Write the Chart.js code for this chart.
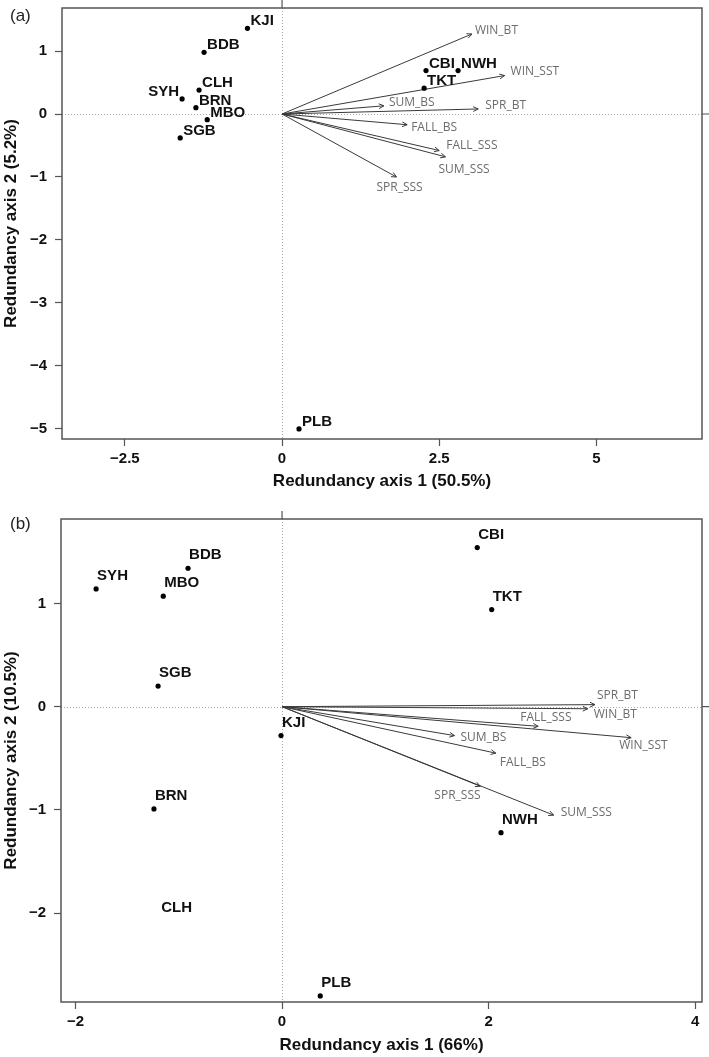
<!DOCTYPE html>
<html><head><meta charset="utf-8">
<script src="https://cdn.jsdelivr.net/npm/chart.js@4.4.1/dist/chart.umd.min.js"></script>
<style>
html,body{margin:0;padding:0;background:#fff;}
#wrap{position:relative;width:709px;height:1057px;overflow:hidden;}
.box{position:absolute;left:0;width:709px;}
#boxA{top:0;height:500px;}
#boxB{top:500px;height:557px;}
</style></head><body>
<div id="wrap">
<div class="box" id="boxA"><canvas id="chartA"></canvas></div>
<div class="box" id="boxB"><canvas id="chartB"></canvas></div>
</div>
<script>
// ---------- Panel (a) data ----------
const sitesA = ['KJI','BDB','CLH','SYH','BRN','MBO','SGB','PLB','CBI','NWH','TKT'];
const siteXA = [-0.55,-1.24,-1.32,-1.59,-1.37,-1.19,-1.62,0.27,2.29,2.80,2.26];
const siteYA = [1.36,0.98,0.38,0.24,0.10,-0.09,-0.38,-5.00,0.69,0.69,0.41];
const varsA  = ['WIN_BT','WIN_SST','SUM_BS','SPR_BT','FALL_BS','FALL_SSS','SUM_SSS','SPR_SSS'];
const varXA  = [3.02,3.54,1.62,3.12,1.99,2.50,2.60,1.82];
const varYA  = [1.27,0.61,0.13,0.08,-0.17,-0.58,-0.68,-1.00];
const xTicksA = [-2.5,0,2.5,5];
const yTicksA = [1,0,-1,-2,-3,-4,-5];

// ---------- Panel (b) data ----------
const sitesB = ['SYH','BDB','MBO','SGB','KJI','BRN','CLH','PLB','NWH','CBI','TKT'];
const siteXB = [-1.80,-0.91,-1.15,-1.20,-0.01,-1.24,-1.18,0.37,2.12,1.89,2.03];
const siteYB = [1.14,1.34,1.07,0.20,-0.28,-0.99,-2.07,-2.80,-1.22,1.54,0.94];
const varsB  = ['SPR_BT','WIN_BT','FALL_SSS','WIN_SST','SUM_BS','FALL_BS','SPR_SSS','SUM_SSS'];
const varXB  = [3.03,2.96,2.48,3.38,1.67,2.07,1.92,2.63];
const varYB  = [0.02,-0.02,-0.19,-0.30,-0.28,-0.45,-0.77,-1.05];
const xTicksB = [-2,0,2,4];
const yTicksB = [1,0,-1,-2];

// ---------- styles (label placement in pixels) ----------
const siteLabelA = {dx:3, dy:-7, left:{SYH:[-3,-7]}};
const siteLabelB = {dx:1, dy:-13, left:{}};
const hiddenDotsB = ['CLH'];
const varLabelA = {WIN_BT:[3,-3],WIN_SST:[6,-4],SUM_BS:[5,-3],SPR_BT:[7,-3],FALL_BS:[4,3],FALL_SSS:[7,-5],SUM_SSS:[-7,13],SPR_SSS:[-20,11]};
const varLabelB = {SPR_BT:[2,-9],WIN_BT:[6,6],FALL_SSS:[-18,-9],WIN_SST:[-12,8],SUM_BS:[6,2],FALL_BS:[4,9],SPR_SSS:[-46,9],SUM_SSS:[7,-3]};

const AX_FONT = '"Liberation Sans", Arial, sans-serif';
const fmt = v => v < 0 ? '\u2212' + String(Math.abs(v)) : String(v);

function makeChart(id, cfg) {
  const datasets = [];
  datasets.push({
    label: 'sites',
    data: cfg.sites.map((s, i) => ({x: cfg.sx[i], y: cfg.sy[i]})),
    pointRadius: cfg.sites.map(s => cfg.hidden.includes(s) ? 0 : 2.6),
    pointBackgroundColor: '#000', pointBorderWidth: 0, showLine: false
  });
  cfg.vars.forEach((v, i) => {
    datasets.push({
      label: v, data: [{x: 0, y: 0}, {x: cfg.vx[i], y: cfg.vy[i]}],
      showLine: true, borderColor: '#3a3a3a', borderWidth: 1, pointRadius: 0, fill: false
    });
  });
  const biplot = {
    id: 'biplot',
    beforeDatasetsDraw(chart) {
      const {ctx, chartArea: a, scales: {x, y}} = chart;
      const x0 = x.getPixelForValue(0), y0 = y.getPixelForValue(0);
      ctx.save();
      ctx.strokeStyle = '#a8a8a8'; ctx.lineWidth = 1; ctx.setLineDash([1, 2]);
      ctx.beginPath();
      ctx.moveTo(a.left, Math.round(y0) + 0.5); ctx.lineTo(a.right, Math.round(y0) + 0.5);
      ctx.moveTo(Math.round(x0) + 0.5, a.top); ctx.lineTo(Math.round(x0) + 0.5, a.bottom);
      ctx.stroke();
      ctx.restore();
    },
    afterDatasetsDraw(chart) {
      const {ctx, chartArea: a, scales: {x, y}} = chart;
      const x0 = x.getPixelForValue(0), y0 = y.getPixelForValue(0);
      ctx.save();
      // frame
      ctx.strokeStyle = '#555'; ctx.lineWidth = 1.5;
      ctx.strokeRect(a.left, a.top, a.right - a.left, a.bottom - a.top);
      // top / right zero ticks
      ctx.beginPath();
      ctx.moveTo(x0, a.top); ctx.lineTo(x0, a.top - 8);
      ctx.moveTo(a.right, y0); ctx.lineTo(a.right + 7, y0);
      ctx.lineWidth = 1.2; ctx.stroke();
      // arrowheads
      ctx.strokeStyle = '#3a3a3a'; ctx.lineWidth = 1;
      cfg.vars.forEach((v, i) => {
        const px = x.getPixelForValue(cfg.vx[i]), py = y.getPixelForValue(cfg.vy[i]);
        const ang = Math.atan2(py - y0, px - x0), L = 5.5, h = 0.45;
        ctx.beginPath();
        ctx.moveTo(px - L * Math.cos(ang - h), py - L * Math.sin(ang - h));
        ctx.lineTo(px, py);
        ctx.lineTo(px - L * Math.cos(ang + h), py - L * Math.sin(ang + h));
        ctx.stroke();
      });
      // variable labels
      ctx.fillStyle = '#6c6c6c'; ctx.font = '12px "Open Sans", sans-serif';
      ctx.textBaseline = 'middle'; ctx.textAlign = 'left';
      cfg.vars.forEach((v, i) => {
        const px = x.getPixelForValue(cfg.vx[i]), py = y.getPixelForValue(cfg.vy[i]);
        const o = cfg.varOff[v] || [4, 0];
        ctx.fillText(v, px + o[0], py + o[1]);
      });
      // site labels
      ctx.fillStyle = '#111'; ctx.font = 'bold 15px ' + AX_FONT;
      cfg.sites.forEach((s, i) => {
        const px = x.getPixelForValue(cfg.sx[i]), py = y.getPixelForValue(cfg.sy[i]);
        if (cfg.siteOff.left[s]) {
          ctx.textAlign = 'right';
          ctx.fillText(s, px + cfg.siteOff.left[s][0], py + cfg.siteOff.left[s][1]);
        } else {
          ctx.textAlign = 'left';
          ctx.fillText(s, px + cfg.siteOff.dx, py + cfg.siteOff.dy);
        }
      });
      // panel tag
      ctx.textAlign = 'left'; ctx.fillStyle = '#222';
      ctx.font = '17px ' + AX_FONT;
      ctx.fillText(cfg.tag, 10, cfg.tagY);
      ctx.restore();
    }
  };
  return new Chart(document.getElementById(id), {
    type: 'scatter',
    data: {datasets},
    plugins: [biplot],
    options: {
      responsive: true, maintainAspectRatio: false, animation: false,
      layout: {padding: {top: cfg.padTop, right: 7, left: 0, bottom: 0}},
      plugins: {legend: {display: false}, tooltip: {enabled: false}},
      scales: {
        x: {
          type: 'linear', min: cfg.xmin, max: cfg.xmax,
          afterBuildTicks: s => { s.ticks = cfg.xticks.map(v => ({value: v})); },
          afterFit: s => { s.height = cfg.xAxisH; s.paddingLeft = 0; s.paddingRight = 0; },
          grid: {drawOnChartArea: false, drawTicks: true, tickLength: 7, tickColor: '#555', tickWidth: 1.2},
          border: {display: false},
          ticks: {font: {family: AX_FONT, size: 15, weight: 'bold'}, color: '#111', padding: 4, callback: fmt, maxRotation: 0, autoSkip: false},
          title: {display: true, text: cfg.xTitle, color: '#111', font: {family: AX_FONT, size: 17, weight: 'bold'}, padding: {top: 0, bottom: cfg.xTitlePad}}
        },
        y: {
          type: 'linear', min: cfg.ymin, max: cfg.ymax,
          afterBuildTicks: s => { s.ticks = cfg.yticks.map(v => ({value: v})); },
          afterFit: s => { s.width = cfg.yAxisW; s.paddingTop = 0; s.paddingBottom = 0; },
          grid: {drawOnChartArea: false, drawTicks: true, tickLength: 7, tickColor: '#555', tickWidth: 1.2},
          border: {display: false},
          ticks: {font: {family: AX_FONT, size: 15, weight: 'bold'}, color: '#111', padding: 8, callback: fmt, autoSkip: false},
          title: {display: true, text: cfg.yTitle, color: '#111', font: {family: AX_FONT, size: 17, weight: 'bold'}, padding: {top: 1, bottom: 0}}
        }
      }
    }
  });
}

makeChart('chartA', {
  sites: sitesA, sx: siteXA, sy: siteYA, hidden: [],
  vars: varsA, vx: varXA, vy: varYA,
  siteOff: siteLabelA, varOff: varLabelA,
  xticks: xTicksA, yticks: yTicksA,
  xmin: -3.50, xmax: 6.68, ymin: -5.16, ymax: 1.683,
  padTop: 8, xAxisH: 61, yAxisW: 62, xTitlePad: 8.8,
  xTitle: 'Redundancy axis 1 (50.5%)', yTitle: 'Redundancy axis 2 (5.2%)',
  tag: '(a)', tagY: 16
});
makeChart('chartB', {
  sites: sitesB, sx: siteXB, sy: siteYB, hidden: hiddenDotsB,
  vars: varsB, vx: varXB, vy: varYB,
  siteOff: siteLabelB, varOff: varLabelB,
  xticks: xTicksB, yticks: yTicksB,
  xmin: -2.14, xmax: 4.066, ymin: -2.859, ymax: 1.817,
  padTop: 19, xAxisH: 55, yAxisW: 61, xTitlePad: 1.3,
  xTitle: 'Redundancy axis 1 (66%)', yTitle: 'Redundancy axis 2 (10.5%)',
  tag: '(b)', tagY: 24
});
</script>
</body></html>
